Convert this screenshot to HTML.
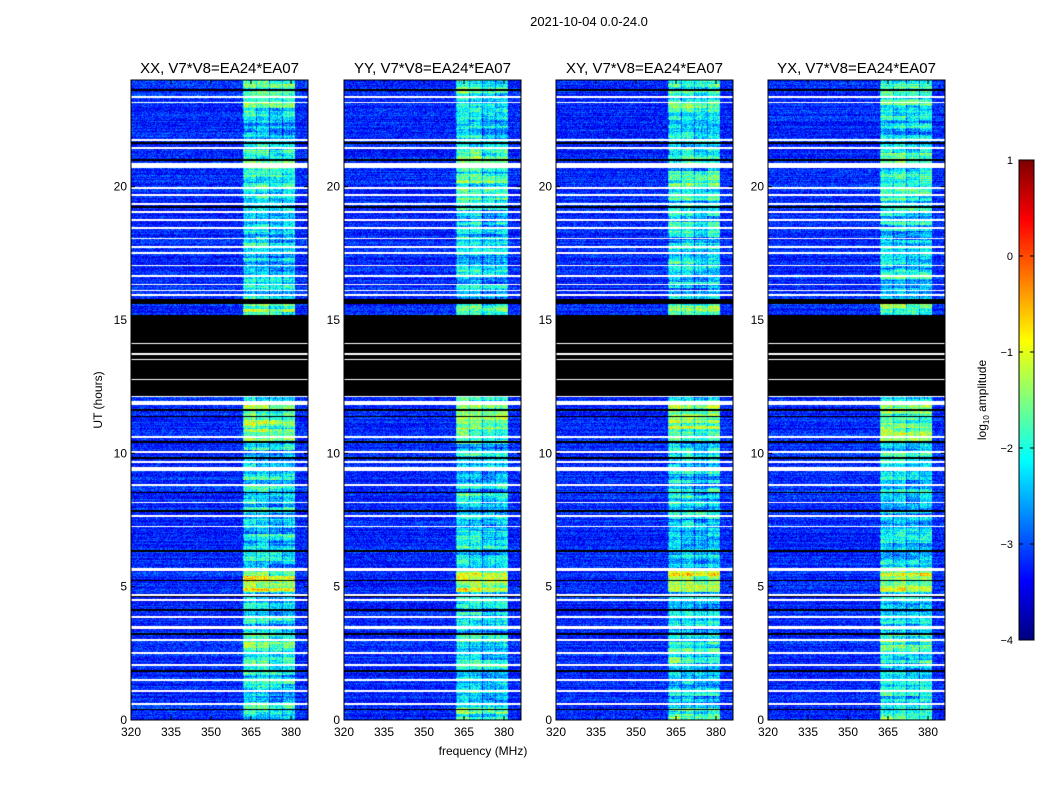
<!DOCTYPE html>
<html><head><meta charset="utf-8"><style>
body{margin:0;background:#fff;width:1050px;height:800px;overflow:hidden;font-family:"Liberation Sans",sans-serif}
#root{position:relative;width:1050px;height:800px}
canvas{position:absolute;left:0;top:0}
</style></head><body>
<div id="root">
<canvas id="cv" width="1050" height="800"></canvas>
<svg id="sv" width="1050" height="800" style="position:absolute;left:0;top:0"></svg>
</div>
<script>
const panelTitles=["XX, V7*V8=EA24*EA07","YY, V7*V8=EA24*EA07","XY, V7*V8=EA24*EA07","YX, V7*V8=EA24*EA07"];
const xTicks=[320,335,350,365,380];
const yTicks=[0,5,10,15,20];
const cbTicks=[1,0,-1,-2,-3,-4];
// frequency band segments (MHz) and base log amplitude
const segStart=[320,362,366.8,371.8,376.8,381.5];
const segEnd=[362,366.8,371.8,376.8,381.5,386.5];
const segLevel=[-3.2,-2.2,-2.2,-2.4,-2.3,-3.2];
// flagged white rows (hours start, end)
const whiteStart=[0.55,1.05,1.47,2.03,2.48,2.98,3.43,3.84,4.48,4.66,5.6,7.22,7.63,8.13,8.78,9.33,9.65,10.03,10.58,11.8,12.1,12.75,13.5,13.7,14.1,15.9,16.08,16.3,16.62,17.02,17.48,17.7,18.03,18.43,18.73,19.03,19.33,19.65,19.93,20.7,21.43,21.73,23.13,23.33];
const whiteEnd=[0.65,1.12,1.53,2.09,2.54,3.04,3.52,3.9,4.54,4.72,5.7,7.28,7.69,8.19,8.84,9.5,9.71,10.09,10.64,11.98,12.15,12.8,13.55,13.75,14.15,15.98,16.14,16.36,16.68,17.08,17.54,17.76,18.09,18.49,18.79,19.09,19.39,19.71,19.99,20.9,21.49,21.79,23.19,23.39];
// flagged black rows
const blackStart=[0.36,1.8,3.2,4.1,4.6,5.2,6.3,7.8,8.5,9.8,10.4,11.35,11.6,12.15,15.6,19.2,20.95,21.6,23.6];
const blackEnd=[0.42,1.86,3.26,4.16,4.64,5.26,6.36,7.86,8.56,9.86,10.46,11.4,11.66,15.2,15.78,19.26,21.02,21.66,23.66];
// time-dependent gain on the band
const gainStart=[4.8,10.4,15.2,19.5,20.9,22.8,2.0,0];
const gainEnd=[5.65,11.9,15.6,20.6,21.5,24,3.2,0.6];
const gainValue=[1.0,0.7,0.6,0.35,0.45,0.35,0.3,0.3];

const L=[131,344,556,768], W=177, T=80, B=720;
const xs=f=>(f-320)*(160/60);
const ys=h=>B-h*(B-T)/24;
const hourOf=y=>(B-y)*24/(B-T);
function jet(v){
  const r=Math.min(Math.max(Math.min(4*v-1.5,-4*v+4.5),0),1);
  const g=Math.min(Math.max(Math.min(4*v-0.5,-4*v+3.5),0),1);
  const b=Math.min(Math.max(Math.min(4*v+0.5,-4*v+2.5),0),1);
  return [r*255|0,g*255|0,b*255|0];
}
function hash(a,b,c){let h=(a*374761393+b*668265263+c*2147483647)|0;h=(h^(h>>>13))*1274126177|0;h^=h>>>16;return ((h>>>0)%10000)/10000;}
function inSeg(h,s,e){for(let i=0;i<s.length;i++)if(h>=s[i]&&h<e[i])return i;return -1;}

const cv=document.getElementById('cv'),ctx=cv.getContext('2d');
const img=ctx.createImageData(1050,800);
for(let i=0;i<img.data.length;i+=4){img.data[i]=255;img.data[i+1]=255;img.data[i+2]=255;img.data[i+3]=255;}
for(let p=0;p<4;p++){
  for(let y=T;y<B;y++){
    const h=hourOf(y+0.5);
    let mode=0;
    if(inSeg(h,whiteStart,whiteEnd)>=0)mode=1;else if(inSeg(h,blackStart,blackEnd)>=0)mode=2;
    const gi=inSeg(h,gainStart,gainEnd);const g=gi>=0?gainValue[gi]:0;
    const rowN=(hash(y,7,p)-0.5)*0.4;
    const rowBand=(hash(Math.floor(y/3),3,p)-0.5)*0.9;
    for(let x=0;x<W;x++){
      const idx=((y)*1050+L[p]+x)*4;
      let c;
      if(mode===1)c=[255,255,255];else if(mode===2)c=[0,0,0];
      else{
        const f=320+(x+0.5)*60/160;
        const si=inSeg(f,segStart,segEnd);
        let v=segLevel[si<0?0:si];
        if(si>0&&si<segStart.length-1){
          v+=g+rowBand+(hash(si,Math.floor(y/4),p)-0.5)*0.5+(hash(x,1,p)-0.5)*0.3;
          if(x===Math.round(xs(segStart[si])))v-=0.6;
          v+=(hash(x,y,p+31)-0.5)*0.5;
        }
        v+=rowN+(hash(x,y,p+11)-0.5)*0.8;
        c=jet(Math.min(1,Math.max(0,(v+4)/5)));
      }
      img.data[idx]=c[0];img.data[idx+1]=c[1];img.data[idx+2]=c[2];
    }
  }
}
for(let y=160;y<640;y++){const c=jet(1-(y-160)/480);for(let x=1019;x<1034;x++){const i=(y*1050+x)*4;img.data[i]=c[0];img.data[i+1]=c[1];img.data[i+2]=c[2];}}
ctx.putImageData(img,0,0);

const sv=document.getElementById('sv'),NS='http://www.w3.org/2000/svg';
function el(t,a,txt){const e=document.createElementNS(NS,t);for(const k in a)e.setAttribute(k,a[k]);if(txt!==undefined)e.textContent=txt;sv.appendChild(e);return e;}
let e=el('text',{x:589,y:26,'font-size':13,'text-anchor':'middle'},'2021-10-04 0.0-24.0');


for(let p=0;p<4;p++){
  e=el('rect',{x:L[p],y:T,width:W,height:B-T,fill:'none',stroke:'#000','stroke-width':1});
  
  
  e=el('text',{x:L[p]+W/2,y:73,'font-size':15,'text-anchor':'middle'},panelTitles[p]);
  
  
  xTicks.forEach(t=>{const x=L[p]+xs(t);
    el('line',{x1:x,x2:x,y1:B,y2:B-4,stroke:'#000'});el('line',{x1:x,x2:x,y1:T,y2:T+4,stroke:'#000'});
    e=el('text',{x:x,y:B+16,'font-size':12,'text-anchor':'middle'},String(t));
    
    });
  yTicks.forEach(t=>{const y=ys(t);
    el('line',{x1:L[p],x2:L[p]+4,y1:y,y2:y,stroke:'#000'});el('line',{x1:L[p]+W,x2:L[p]+W-4,y1:y,y2:y,stroke:'#000'});
    e=el('text',{x:L[p]-4,y:y+4,'font-size':12,'text-anchor':'end'},String(t));
    
    });
}
e=el('text',{x:483,y:755,'font-size':12,'text-anchor':'middle'},'frequency (MHz)');


e=el('text',{x:0,y:0,'font-size':12,'text-anchor':'middle',transform:'translate(102,400) rotate(-90)'},'UT (hours)');


e=el('rect',{x:1019,y:160,width:15,height:480,fill:'none',stroke:'#000'});


cbTicks.forEach(t=>{const y=160+(1-t)*96;
  el('line',{x1:1019,x2:1023,y1:y,y2:y,stroke:'#000'});el('line',{x1:1034,x2:1030,y1:y,y2:y,stroke:'#000'});
  e=el('text',{x:1013,y:y+4,'font-size':11,'text-anchor':'end'},t<0?'\u2212'+(-t):String(t));
  
  });
e=el('text',{x:0,y:0,'font-size':12,'text-anchor':'middle',transform:'translate(986,400) rotate(-90)'});
e.innerHTML='log<tspan font-size="8" dy="3">10</tspan><tspan dy="-3"> amplitude</tspan>';


</script>
</body></html>
